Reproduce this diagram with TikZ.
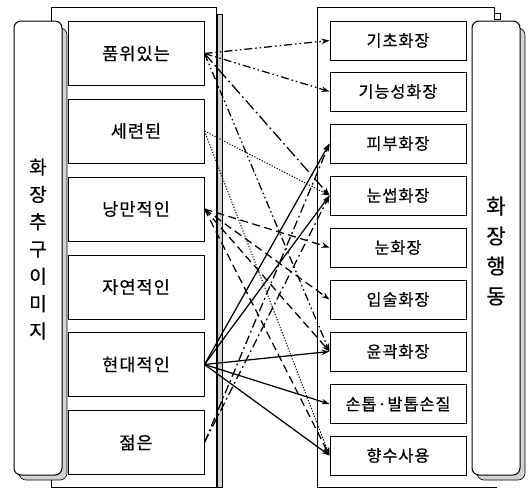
\documentclass[tikz,border=0pt]{standalone}
\usepackage{fontspec}
\setmainfont{Noto Sans CJK KR}
\newfontfamily\kr[LetterSpace=6,FakeBold=0.5]{Noto Sans CJK KR}
\newfontfamily\krv[FakeBold=0.5]{Noto Sans CJK KR}
\usetikzlibrary{arrows.meta}
\tikzset{
  frame/.style={draw, line width=0.8pt},
  shadowbar/.style={draw, line width=0.5pt, fill=gray!35},
  lab/.style={draw, line width=1pt, fill=white, rounded corners=7pt},
  lb/.style={draw, line width=1pt, fill=white, minimum width=136pt, minimum height=64pt, inner sep=0pt, font=\kr\fontsize{17.5}{18}\selectfont},
  rb/.style={draw, line width=1pt, fill=white, minimum width=136pt, minimum height=39pt, inner sep=0pt, font=\kr\fontsize{16.3}{18}\selectfont},
  con/.style={line width=1.25pt, -{Stealth[length=8pt,width=5.5pt]}},
  pdd/.style={dash pattern=on 8pt off 3pt on 1.5pt off 3pt on 1.5pt off 3pt},
  pld/.style={dash pattern=on 12pt off 3.5pt on 1.8pt off 3.5pt},
  pdsh/.style={dash pattern=on 8pt off 4.5pt},
  pdot/.style={line width=1pt, dash pattern=on 1.2pt off 1.6pt},
  pdda/.style={dash pattern=on 9pt off 3.5pt on 1.8pt off 3.5pt},
}
\begin{document}
\begin{tikzpicture}[x=1pt,y=-1pt]
\useasboundingbox (0,0) rectangle (528,493);
\fill[white] (0,0) rectangle (528,493);
% left panel frame
\draw[frame] (51,7) rectangle (216,487);
\draw[shadowbar] (217,14) rectangle (222,487);
% left label
\draw[draw, line width=0.6pt, fill=gray!35, rounded corners=7pt] (19,28) rectangle (67,480);
\draw[lab] (14,21) rectangle (62,475);
\node[font=\krv\fontsize{19}{27.3}\selectfont, align=center, inner sep=0pt] (llab) at (38,249) {화\\장\\추\\구\\이\\미\\지};
% right panel frame
\draw[frame] (317,7) -- (494,7) -- (494,13);
\draw[frame] (317,7) -- (317,487) -- (497,487);
\draw[line width=0.7pt, fill=white] (494,13) rectangle (500,19);
\draw[draw, line width=0.6pt, fill=gray!35, rounded corners=7pt] (477,28) rectangle (525,480);
\draw[lab] (472,21) rectangle (520,475);
\node[font=\krv\fontsize{21}{30}\selectfont, align=center, inner sep=0pt] (rlab) at (496,251) {화\\장\\행\\동};
% left boxes
\node[lb] (l1) at (136,53.5) {품위있는};
\node[lb] (l2) at (136,131) {세련된};
\node[lb] (l3) at (136,209) {낭만적인};
\node[lb] (l4) at (136,287) {자연적인};
\node[lb] (l5) at (136,364.5) {현대적인};
\node[lb] (l6) at (136,442.5) {젊은};
% right boxes
\node[rb] (r1) at (398,40.5) {기초화장};
\node[rb] (r2) at (398,91.5) {기능성화장};
\node[rb] (r3) at (398,143.5) {피부화장};
\node[rb] (r4) at (398,195.5) {눈썹화장};
\node[rb] (r5) at (398,247.5) {눈화장};
\node[rb] (r6) at (398,299.5) {입술화장};
\node[rb] (r7) at (398,351.5) {윤곽화장};
\node[rb] (r8) at (398,404) {손톱·발톱손질};
\node[rb] (r9) at (398,455.5) {향수사용};
% connectors
\draw[con,pdd] (l1.east) -- (r1.west);
\draw[con,pdd] (l1.east) -- (r2.west);
\draw[con,pld] (l1.east) -- (r4.west);
\draw[con,pdd] (l1.east) -- (r7.west);
\draw[con,pdot] (l2.east) -- (r4.west);
\draw[con,pdot] (l2.east) -- (r9.west);
\draw[con,pdsh] (l3.east) -- (r5.west);
\draw[con,pdsh] (l3.east) -- (r6.west);
\draw[con,pdsh] (l3.east) -- (r7.west);
\draw[con,pdsh] (l3.east) -- (r9.west);
\draw[con] (l5.east) -- (r3.west);
\draw[con] (l5.east) -- (r4.west);
\draw[con] (l5.east) -- (r7.west);
\draw[con] (l5.east) -- (r8.west);
\draw[con] (l5.east) -- (r9.west);
\draw[con,pdda] (l6.east) -- (r3.west);
\draw[con,pdda] (l6.east) -- (r4.west);
\end{tikzpicture}
\end{document}
